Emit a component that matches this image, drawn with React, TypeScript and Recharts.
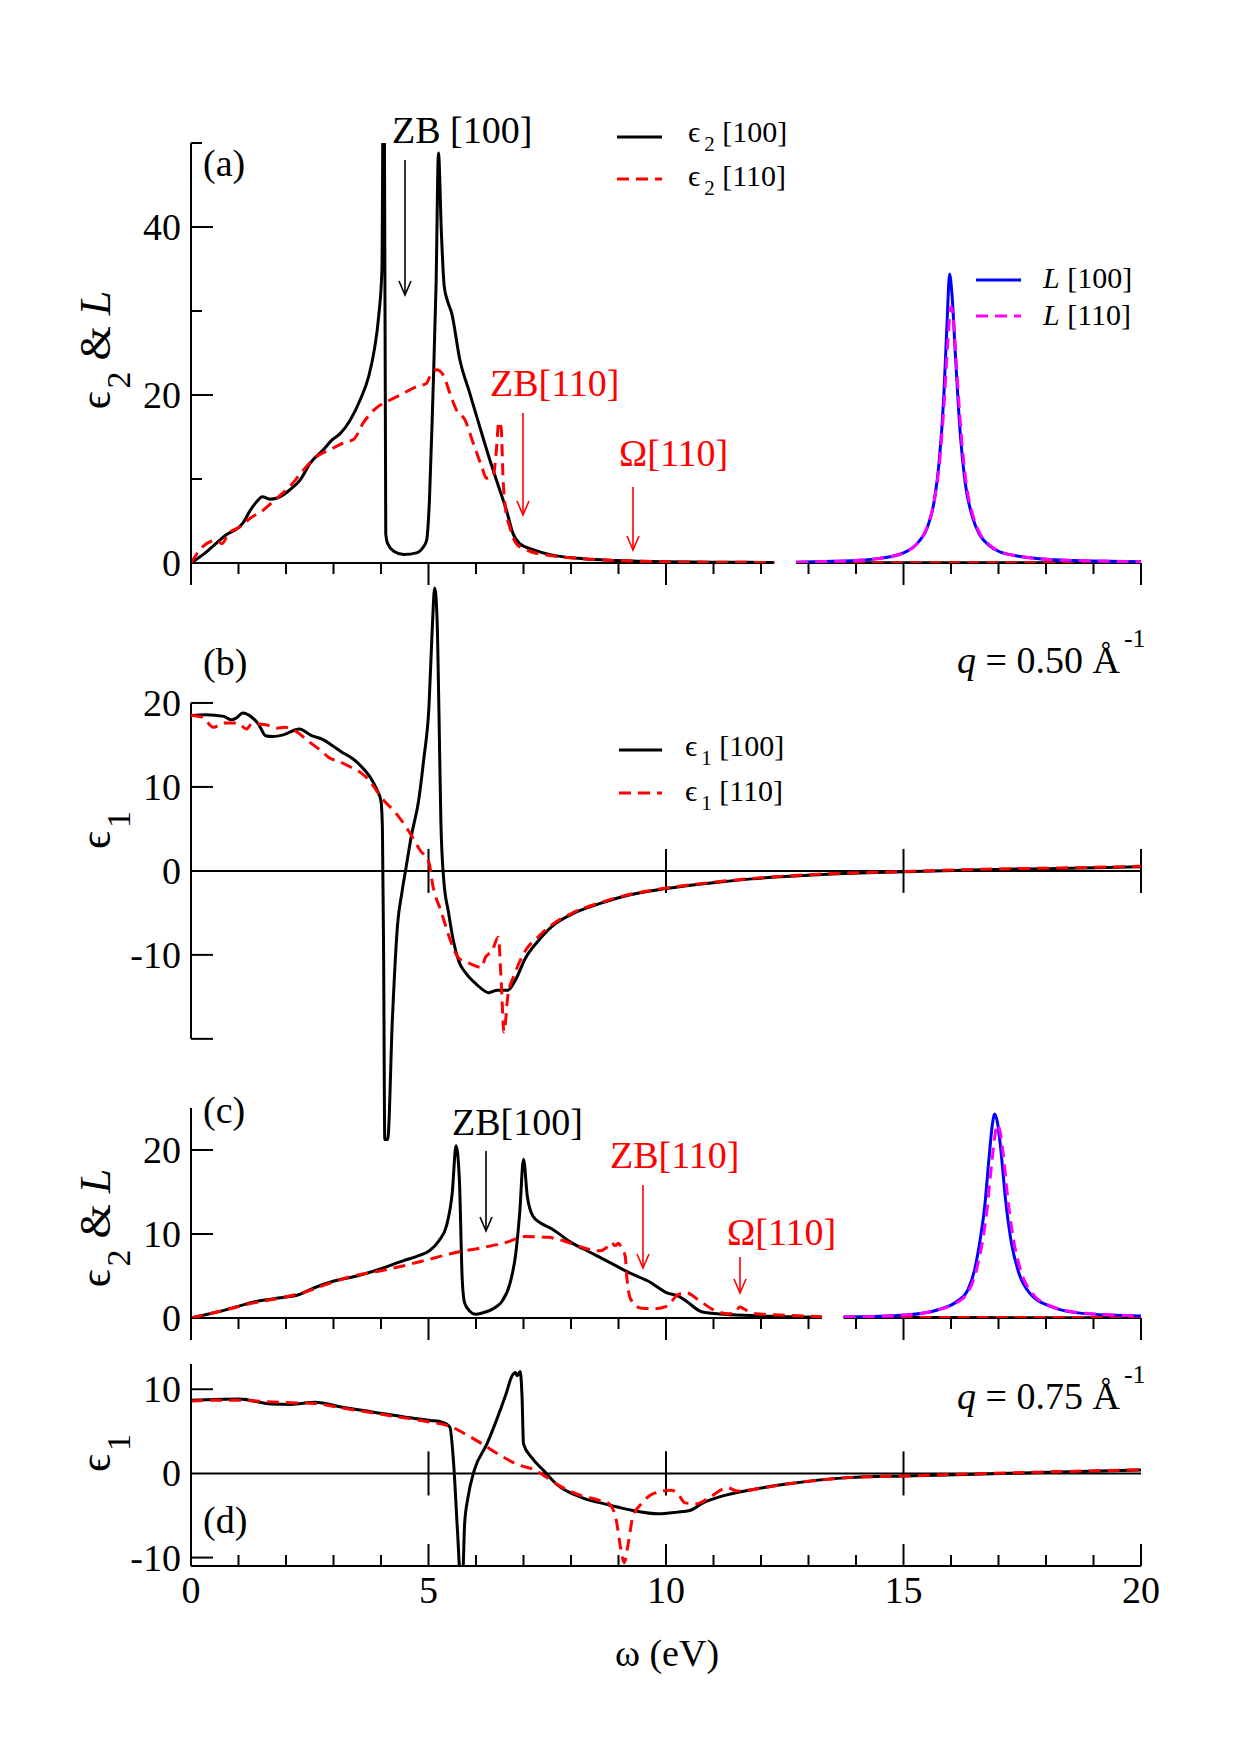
import React from "react";
import { LineChart, Line, XAxis, YAxis, ReferenceLine } from "recharts";

const FONT = "'Liberation Serif', 'Times New Roman', 'DejaVu Serif', serif";

// [omega (eV), value]; null = axis break
const A_EPS2_100 = [
  [0, 0], [0.3, 1.2], [0.5, 2.2], [0.75, 3.4], [1.0, 4.2], [1.1, 4.8], [1.24, 6.2], [1.4, 7.4], [1.5, 7.9],
  [1.66, 7.6], [1.8, 7.7], [2.08, 8.7], [2.3, 9.9], [2.51, 11.9], [2.79, 13.5], [2.96, 14.6], [3.14, 15.4],
  [3.35, 17.0], [3.56, 19.4], [3.74, 22.2], [3.86, 25.4], [3.95, 29.3], [4.02, 35], [4.045, 55], [4.07, 55],
  [4.1, 3.5], [4.14, 2.3], [4.27, 1.4], [4.48, 1.0], [4.75, 1.2], [4.89, 1.9], [4.96, 2.7], [5.02, 7.5],
  [5.09, 19.4], [5.16, 33.3], [5.21, 48.8], [5.27, 39.5], [5.33, 33], [5.4, 31.2], [5.49, 29.7], [5.66, 24.2],
  [5.87, 20.2], [6.08, 16.2], [6.29, 12.3], [6.5, 8.7], [6.64, 6.3], [6.78, 3.5], [6.92, 2.3], [7.2, 1.6],
  [7.56, 1.0], [8.26, 0.5], [8.96, 0.3], [10, 0.15], [11, 0.1], [12.28, 0.06], [12.5, null], [12.74, 0.05],
  [15, 0.03], [20, 0.02],
];
const A_EPS2_110 = [
  [0, 0], [0.26, 2.0], [0.54, 2.7], [0.65, 2.3], [0.79, 3.5], [1.03, 4.3], [1.24, 5.3], [1.52, 6.3], [1.8, 7.7],
  [2.08, 9.1], [2.37, 11.1], [2.65, 12.7], [2.93, 13.5], [3.21, 14.3], [3.42, 14.7], [3.63, 16.7], [3.91, 18.5],
  [4.19, 19.4], [4.47, 20.2], [4.75, 21.0], [4.96, 21.4], [5.03, 22.2], [5.17, 23.0], [5.31, 22.4], [5.45, 20.2],
  [5.59, 18.2], [5.77, 17.0], [5.94, 14.3], [6.12, 11.5], [6.22, 10.1], [6.36, 10.3], [6.43, 13.5], [6.48, 16.8],
  [6.53, 16.0], [6.57, 10], [6.62, 6.5], [6.71, 4.3], [6.85, 2.3], [7.13, 1.4], [7.56, 0.9], [8.26, 0.5],
  [8.96, 0.3], [10, 0.15], [11, 0.1], [12.28, 0.06], [12.5, null], [12.74, 0.05], [15, 0.03], [20, 0.02],
];
const A_L_100 = [
  [12.74, 0.1], [13.5, 0.2], [14, 0.3], [14.5, 0.55], [15, 1.2], [15.3, 2.4], [15.5, 4.2], [15.65, 7.5],
  [15.75, 12], [15.85, 20], [15.92, 29], [15.97, 34.4], [16.02, 32], [16.1, 24], [16.2, 15], [16.3, 9.5],
  [16.45, 5.5], [16.6, 3.4], [16.8, 2.1], [17, 1.4], [17.5, 0.75], [18, 0.45], [19, 0.25], [20, 0.15],
];
const A_L_110 = [
  [12.74, 0.1], [13.5, 0.2], [14, 0.3], [14.5, 0.55], [15, 1.2], [15.3, 2.4], [15.5, 4.3], [15.65, 7.5],
  [15.75, 11.5], [15.85, 18.5], [15.93, 26], [16.0, 30.5], [16.05, 29], [16.12, 23], [16.22, 15], [16.32, 9.5],
  [16.47, 5.5], [16.62, 3.4], [16.82, 2.1], [17, 1.45], [17.5, 0.75], [18, 0.45], [19, 0.25], [20, 0.15],
];

const B_EPS1_100 = [
  [0, 18.5], [0.32, 18.6], [0.69, 18.4], [0.84, 18.0], [0.95, 18.2], [1.09, 18.8], [1.28, 18.3], [1.43, 17.4],
  [1.57, 16.1], [1.72, 16.0], [1.94, 16.2], [2.28, 16.9], [2.54, 16.1], [2.76, 15.7], [2.98, 14.9], [3.16, 14.2],
  [3.42, 13.3], [3.64, 12.1], [3.79, 11.0], [3.92, 9.6], [4.0, 8.3], [4.03, 5], [4.055, -10], [4.08, -32],
  [4.14, -32], [4.24, -17.6], [4.35, -6.3], [4.44, -2.6], [4.53, 0.5], [4.64, 4.2], [4.79, 8.3], [4.9, 13.3],
  [5.01, 19.6], [5.08, 29], [5.13, 33.7], [5.18, 30.1], [5.22, 19], [5.26, 6], [5.32, -1.0], [5.42, -4.9],
  [5.53, -8.5], [5.64, -10.8], [5.79, -12.2], [6.01, -13.5], [6.27, -14.5], [6.45, -14.2], [6.67, -14.2],
  [6.82, -13.1], [7.04, -10.4], [7.3, -8.4], [7.6, -6.6], [8.0, -5.2], [8.6, -3.9], [9.2, -2.9], [10, -2.1],
  [11, -1.4], [11.8, -0.95], [13.4, -0.4], [15, -0.1], [16.7, 0.15], [18.3, 0.3], [20, 0.5],
];
const B_EPS1_110 = [
  [0, 18.5], [0.24, 18.3], [0.47, 17.1], [0.69, 17.6], [0.98, 17.6], [1.17, 16.9], [1.28, 17.5], [1.57, 17.4],
  [1.8, 17.0], [1.98, 17.1], [2.24, 16.5], [2.46, 15.5], [2.76, 14.2], [2.9, 13.5], [3.13, 13.0], [3.35, 12.4],
  [3.57, 11.7], [3.75, 10.8], [4.01, 8.7], [4.31, 6.9], [4.6, 4.6], [4.83, 2.4], [5.01, 1.0], [5.09, -1.7],
  [5.27, -4.9], [5.45, -8.1], [5.64, -10.4], [5.86, -11.0], [6.12, -11.5], [6.19, -10.4], [6.34, -9.5],
  [6.47, -7.9], [6.53, -13.1], [6.59, -19.2], [6.67, -14.9], [6.82, -12.2], [7.04, -9.5], [7.3, -7.9],
  [7.6, -6.4], [8.0, -5.1], [8.6, -3.8], [9.2, -2.85], [10, -2.05], [11, -1.35], [11.8, -0.9], [13.4, -0.35],
  [15, -0.08], [16.7, 0.2], [18.3, 0.35], [20, 0.55],
];

const C_EPS2_100 = [
  [0, 0], [0.75, 1.0], [1.4, 2.0], [1.88, 2.4], [2.28, 2.8], [2.6, 3.6], [3.01, 4.4], [3.49, 5.0], [3.97, 5.8],
  [4.46, 6.8], [4.78, 7.4], [5.02, 8.0], [5.22, 9.2], [5.38, 11.0], [5.5, 14.9], [5.58, 20.5], [5.65, 16.5],
  [5.71, 4.6], [5.76, 1.8], [5.87, 0.8], [5.99, 0.44], [6.15, 0.63], [6.39, 1.2], [6.55, 2.0], [6.72, 4.2],
  [6.84, 7.8], [6.92, 12.5], [7.0, 18.9], [7.08, 14.5], [7.2, 12.1], [7.36, 11.3], [7.6, 10.6], [8.0, 9.0],
  [8.41, 7.8], [8.82, 6.6], [9.22, 5.4], [9.62, 4.4], [10.02, 3.0], [10.26, 2.6], [10.43, 2.0], [10.75, 0.75],
  [11.24, 0.44], [12, 0.25], [13.28, 0.1], [13.5, null], [13.74, 0.08], [16, 0.05], [20, 0.03],
];
const C_EPS2_110 = [
  [0, 0], [0.75, 1.0], [1.32, 1.8], [1.8, 2.3], [2.36, 3.0], [2.85, 4.0], [3.41, 5.0], [3.97, 5.6], [4.46, 6.2],
  [5.02, 7.0], [5.58, 7.8], [6.15, 8.4], [6.63, 9.0], [7.04, 9.7], [7.52, 9.6], [7.84, 9.2], [8.24, 8.4],
  [8.61, 8.0], [8.73, 8.3], [8.85, 9.0], [8.93, 8.6], [9.0, 8.9], [9.07, 8.2], [9.14, 7.4], [9.18, 4.6],
  [9.26, 2.2], [9.46, 1.2], [9.78, 1.1], [10.02, 1.4], [10.26, 2.8], [10.43, 3.0], [10.67, 2.2], [10.99, 1.0],
  [11.31, 0.5], [11.45, 0.6], [11.55, 1.3], [11.7, 0.9], [11.9, 0.5], [12.64, 0.3], [13.28, 0.15], [13.5, null],
  [13.74, 0.1], [16, 0.06], [20, 0.04],
];
const C_L_100 = [
  [13.74, 0.1], [15.06, 0.36], [15.71, 0.95], [16.11, 1.9], [16.35, 3.3], [16.5, 5.8], [16.59, 8.5],
  [16.71, 13.3], [16.8, 19], [16.87, 23], [16.92, 24.3], [16.98, 23.2], [17.05, 20], [17.15, 14], [17.27, 9],
  [17.42, 5.5], [17.65, 3.0], [18.11, 1.35], [18.76, 0.55], [20, 0.25],
];
const C_L_110 = [
  [13.74, 0.1], [15.06, 0.36], [15.71, 0.95], [16.11, 1.8], [16.35, 3.0], [16.5, 5.0], [16.62, 7.8],
  [16.75, 12.5], [16.85, 18], [16.92, 21.5], [16.97, 23.0], [17.03, 22.3], [17.1, 19.5], [17.2, 14],
  [17.32, 9.2], [17.47, 5.6], [17.7, 3.0], [18.11, 1.4], [18.76, 0.6], [20, 0.25],
];

const D_EPS1_100 = [
  [0, 8.7], [1.02, 8.85], [1.69, 8.25], [2.1, 8.2], [2.62, 8.45], [3.16, 7.9], [3.82, 7.3], [4.49, 6.7],
  [5.03, 6.3], [5.29, 6.1], [5.45, 5.5], [5.53, 1.1], [5.61, -6.8], [5.67, -12], [5.72, -12], [5.76, -6],
  [5.83, -2.9], [5.96, 0.3], [6.23, 3.5], [6.43, 6.3], [6.63, 9.4], [6.76, 11.6], [6.83, 12.0], [6.87, 11.6],
  [6.93, 12.1], [6.97, 9.0], [7.0, 3.5], [7.17, 1.9], [7.43, 0.3], [7.7, -1.3], [8.24, -2.9], [8.77, -3.7],
  [9.3, -4.4], [9.84, -4.8], [10.24, -4.6], [10.5, -4.4], [10.78, -3.5], [11.18, -2.7], [11.84, -1.9],
  [12.5, -1.3], [13.85, -0.5], [15, -0.3], [16.5, -0.1], [17.86, 0.1], [20, 0.4],
];
const D_EPS1_110 = [
  [0, 8.6], [0.5, 8.7], [1.0, 8.7], [1.69, 8.5], [2.1, 8.4], [2.62, 8.3], [3.16, 7.8], [3.82, 7.2], [4.49, 6.6],
  [5.03, 6.1], [5.45, 5.6], [5.8, 4.6], [6.1, 3.6], [6.5, 2.2], [6.9, 1.0], [7.2, 0.5], [7.5, -0.5], [7.8, -1.6],
  [8.2, -2.6], [8.6, -3.2], [8.8, -3.6], [8.95, -5.5], [9.05, -9], [9.12, -10.6], [9.2, -8.5], [9.3, -5.2],
  [9.5, -3.5], [9.7, -2.5], [10.1, -2.0], [10.25, -2.4], [10.4, -3.5], [10.64, -3.6], [10.9, -2.9],
  [11.3, -1.7], [11.5, -2.1], [11.84, -1.9], [12.5, -1.3], [13.85, -0.5], [15, -0.3], [16.5, -0.05],
  [17.86, 0.15], [20, 0.45],
];

// axes
const X_TICKS = [0, 1, 2, 3, 4, 5, 6, 7, 8, 9, 10, 11, 12, 13, 14, 15, 16, 17, 18, 19, 20];
const X_MAJOR = [0, 5, 10, 15, 20];
const X_LABELS = [0, 5, 10, 15, 20];
const A_GAP = [12.28, 12.74];
const C_GAP = [13.28, 13.74];
const A_Y_TICKS = [0, 10, 20, 30, 40, 50];
const A_Y_LABELS = [0, 20, 40];
const A_Y_MINOR = [10, 30, 50];
const B_Y_TICKS = [-20, -10, 0, 10, 20];
const B_Y_LABELS = [-10, 0, 10, 20];
const C_Y_TICKS = [0, 10, 20];
const D_Y_TICKS = [-10, 0, 10];
const B_ZERO_TICKS = [5, 10, 15, 20];
const D_ZERO_TICKS = [5, 10, 15];

const rows = (pts: (number | null)[][]) => pts.map(([x, y]) => ({ x, y }));

const yTick = (labels: number[], minor: number[] = []) => (p: any) => {
  const v = p.payload.value;
  return (
    <g>
      {v !== 0 && (
        <line x1={p.x} x2={p.x + (minor.includes(v) ? 11 : 22)} y1={p.y} y2={p.y} stroke="#000" strokeWidth={2} />
      )}
      {labels.includes(v) && (
        <text x={p.x - 10} y={p.y + 13} textAnchor="end" fontSize={38} fontFamily={FONT} fill="#000">
          {v}
        </text>
      )}
    </g>
  );
};

const xTickDown = (p: any) => {
  const v = p.payload.value;
  const len = X_MAJOR.includes(v) ? 22 : 11;
  return <line x1={p.x} x2={p.x} y1={p.y} y2={p.y + len} stroke="#000" strokeWidth={2} />;
};

const xTickUp = (p: any) => {
  const v = p.payload.value;
  const len = X_MAJOR.includes(v) ? 22 : 11;
  return (
    <g>
      <line x1={p.x} x2={p.x} y1={p.y} y2={p.y - len} stroke="#000" strokeWidth={2} />
      {X_LABELS.includes(v) && (
        <text x={p.x} y={p.y + 37} textAnchor="middle" fontSize={38} fontFamily={FONT} fill="#000">
          {v}
        </text>
      )}
    </g>
  );
};

const lineProps = {
  dataKey: "y",
  dot: false,
  isAnimationActive: false,
  strokeWidth: 3,
  strokeLinejoin: "round" as const,
  type: "monotone" as const,
};
const DASH = "12 7";

const Arrow = ({ x, y1, y2, color }: { x: number; y1: number; y2: number; color: string }) => (
  <g stroke={color} strokeWidth={1.6} fill="none">
    <line x1={x} y1={y1} x2={x} y2={y2} />
    <polyline points={`${x - 6},${y2 - 14} ${x},${y2} ${x + 6},${y2 - 14}`} />
  </g>
);

const XAxisCommon = {
  type: "number" as const,
  dataKey: "x",
  domain: [0, 20],
  allowDataOverflow: true,
  ticks: X_TICKS,
  interval: 0,
  tickLine: false,
  tickSize: 0,
  tickMargin: 0,
};

const YAxisCommon = {
  type: "number" as const,
  allowDataOverflow: true,
  interval: 0,
  tickLine: false,
  tickSize: 0,
  tickMargin: 0,
  width: 191,
};

// y-axis title: epsilon with subscript, optional " & L"
const YTitle = ({ x, y, sub, withL }: { x: number; y: number; sub: string; withL?: boolean }) => (
  <text transform={`translate(${x},${y}) rotate(-90)`} textAnchor="middle" fontSize={44}>
    ϵ<tspan dx={3} dy={20} fontSize={34}>{sub}</tspan>
    {withL && <tspan dy={-20}>{" & "}</tspan>}
    {withL && <tspan fontStyle="italic">L</tspan>}
  </text>
);

const EpsLegend = ({ x, y, sub, dir }: { x: number; y: number; sub: string; dir: string }) => (
  <text x={x} y={y} fontSize={30}>
    ϵ<tspan dx={4} dy={9} fontSize={21}>{sub}</tspan>
    <tspan dy={-9}>{` ${dir}`}</tspan>
  </text>
);

const QLabel = ({ x, y, q }: { x: number; y: number; q: string }) => (
  <text x={x} y={y} fontSize={38}>
    <tspan fontStyle="italic">q</tspan>
    {` = ${q} Å`}
    <tspan dx={4} dy={-26} fontSize={26}>-1</tspan>
  </text>
);

export default function App() {
  return (
    <div style={{ position: "absolute", left: 0, top: 0, width: 1240, height: 1755, background: "#fff", fontFamily: FONT }}>
      {/* (a) eps2 & L, q = 0.50 */}
      <div style={{ position: "absolute", left: 0, top: 100 }}>
        <LineChart width={1240} height={503} margin={{ top: 43, right: 99, bottom: 0, left: 0 }}>
          <XAxis {...XAxisCommon} tick={xTickDown} axisLine={false} height={40} />
          <YAxis {...YAxisCommon} domain={[0, 50]} ticks={A_Y_TICKS} tick={yTick(A_Y_LABELS, A_Y_MINOR)} axisLine={{ stroke: "#000", strokeWidth: 2 }} />
          <ReferenceLine segment={[{ x: 0, y: 0 }, { x: A_GAP[0], y: 0 }]} stroke="#000" strokeWidth={2} />
          <ReferenceLine segment={[{ x: A_GAP[1], y: 0 }, { x: 20, y: 0 }]} stroke="#000" strokeWidth={2} />
          <Line {...lineProps} data={rows(A_EPS2_100)} stroke="#000000" />
          <Line {...lineProps} data={rows(A_EPS2_110)} stroke="#ff0000" strokeDasharray={DASH} />
          <Line {...lineProps} data={rows(A_L_100)} stroke="#0000ff" />
          <Line {...lineProps} data={rows(A_L_110)} stroke="#ff00ff" strokeDasharray={DASH} />
        </LineChart>
      </div>

      {/* (b) eps1, q = 0.50 */}
      <div style={{ position: "absolute", left: 0, top: 577 }}>
        <LineChart width={1240} height={571} margin={{ top: 0, right: 99, bottom: 0, left: 0 }}>
          <XAxis {...XAxisCommon} hide />
          <YAxis {...YAxisCommon} domain={[-33, 35]} ticks={B_Y_TICKS} tick={yTick(B_Y_LABELS)} axisLine={false} />
          <ReferenceLine segment={[{ x: 0, y: -20 }, { x: 0, y: 20 }]} stroke="#000" strokeWidth={2} />
          <ReferenceLine y={0} stroke="#000" strokeWidth={2} />
          {B_ZERO_TICKS.map((t) => (
            <ReferenceLine key={t} segment={[{ x: t, y: -2.62 }, { x: t, y: 2.62 }]} stroke="#000" strokeWidth={2} />
          ))}
          <Line {...lineProps} data={rows(B_EPS1_100)} stroke="#000000" />
          <Line {...lineProps} data={rows(B_EPS1_110)} stroke="#ff0000" strokeDasharray={DASH} />
        </LineChart>
      </div>

      {/* (c) eps2 & L, q = 0.75 */}
      <div style={{ position: "absolute", left: 0, top: 1098 }}>
        <LineChart width={1240} height={260} margin={{ top: 10, right: 99, bottom: 0, left: 0 }}>
          <XAxis {...XAxisCommon} tick={xTickDown} axisLine={false} height={40} />
          <YAxis {...YAxisCommon} domain={[0, 25]} ticks={C_Y_TICKS} tick={yTick(C_Y_TICKS)} axisLine={{ stroke: "#000", strokeWidth: 2 }} />
          <ReferenceLine segment={[{ x: 0, y: 0 }, { x: C_GAP[0], y: 0 }]} stroke="#000" strokeWidth={2} />
          <ReferenceLine segment={[{ x: C_GAP[1], y: 0 }, { x: 20, y: 0 }]} stroke="#000" strokeWidth={2} />
          <Line {...lineProps} data={rows(C_EPS2_100)} stroke="#000000" />
          <Line {...lineProps} data={rows(C_EPS2_110)} stroke="#ff0000" strokeDasharray={DASH} />
          <Line {...lineProps} data={rows(C_L_100)} stroke="#0000ff" />
          <Line {...lineProps} data={rows(C_L_110)} stroke="#ff00ff" strokeDasharray={DASH} />
        </LineChart>
      </div>

      {/* (d) eps1, q = 0.75 */}
      <div style={{ position: "absolute", left: 0, top: 1354 }}>
        <LineChart width={1240} height={272} margin={{ top: 10, right: 99, bottom: 0, left: 0 }}>
          <XAxis {...XAxisCommon} tick={xTickUp} axisLine={{ stroke: "#000", strokeWidth: 2 }} height={60} />
          <YAxis {...YAxisCommon} domain={[-11, 13]} ticks={D_Y_TICKS} tick={yTick(D_Y_TICKS)} axisLine={{ stroke: "#000", strokeWidth: 2 }} />
          <ReferenceLine y={0} stroke="#000" strokeWidth={2} />
          {D_ZERO_TICKS.map((t) => (
            <ReferenceLine key={t} segment={[{ x: t, y: -2.62 }, { x: t, y: 2.62 }]} stroke="#000" strokeWidth={2} />
          ))}
          <Line {...lineProps} data={rows(D_EPS1_100)} stroke="#000000" />
          <Line {...lineProps} data={rows(D_EPS1_110)} stroke="#ff0000" strokeDasharray={DASH} />
        </LineChart>
      </div>

      {/* labels, legends, arrows */}
      <svg width={1240} height={1755} style={{ position: "absolute", left: 0, top: 0, pointerEvents: "none" }} fontFamily={FONT}>
        <YTitle x={110} y={350} sub="2" withL />
        <YTitle x={110} y={830} sub="1" />
        <YTitle x={110} y={1228} sub="2" withL />
        <YTitle x={110} y={1453} sub="1" />

        {/* panel a */}
        <text x={203} y={176} fontSize={38}>(a)</text>
        <text x={392} y={143} fontSize={38}>ZB [100]</text>
        <Arrow x={405} y1={160} y2={295} color="#000" />
        <text x={490} y={396} fontSize={38} fill="#ff0000">ZB[110]</text>
        <Arrow x={523} y1={413} y2={515} color="#ff0000" />
        <text x={619} y={466} fontSize={38} fill="#ff0000">Ω[110]</text>
        <Arrow x={633} y1={487} y2={550} color="#ff0000" />

        <line x1={617} x2={662} y1={137} y2={137} stroke="#000" strokeWidth={3} />
        <EpsLegend x={688} y={142} sub="2" dir="[100]" />
        <line x1={617} x2={662} y1={179} y2={179} stroke="#ff0000" strokeWidth={3} strokeDasharray={DASH} />
        <EpsLegend x={688} y={186} sub="2" dir="[110]" />

        <line x1={976} x2={1021} y1={280} y2={280} stroke="#0000ff" strokeWidth={3} />
        <text x={1043} y={288} fontSize={30}>
          <tspan fontStyle="italic">L</tspan>
          {" [100]"}
        </text>
        <line x1={976} x2={1021} y1={316} y2={316} stroke="#ff00ff" strokeWidth={3} strokeDasharray={DASH} />
        <text x={1043} y={325} fontSize={30}>
          <tspan fontStyle="italic">L</tspan>
          {" [110]"}
        </text>

        {/* panel b */}
        <text x={203} y={675} fontSize={38}>(b)</text>
        <QLabel x={957} y={673} q="0.50" />
        <line x1={619} x2={662} y1={750} y2={750} stroke="#000" strokeWidth={3} />
        <EpsLegend x={685} y={756} sub="1" dir="[100]" />
        <line x1={619} x2={662} y1={793} y2={793} stroke="#ff0000" strokeWidth={3} strokeDasharray={DASH} />
        <EpsLegend x={685} y={801} sub="1" dir="[110]" />

        {/* panel c */}
        <text x={203} y={1123} fontSize={38}>(c)</text>
        <text x={452} y={1135} fontSize={38}>ZB[100]</text>
        <Arrow x={486} y1={1151} y2={1231} color="#000" />
        <text x={610} y={1168} fontSize={38} fill="#ff0000">ZB[110]</text>
        <Arrow x={643} y1={1185} y2={1268} color="#ff0000" />
        <text x={727} y={1245} fontSize={38} fill="#ff0000">Ω[110]</text>
        <Arrow x={740} y1={1257} y2={1293} color="#ff0000" />

        {/* panel d */}
        <QLabel x={957} y={1409} q="0.75" />
        <text x={203} y={1533} fontSize={38}>(d)</text>
        <text x={667} y={1666} fontSize={38} textAnchor="middle">ω (eV)</text>
      </svg>
    </div>
  );
}
